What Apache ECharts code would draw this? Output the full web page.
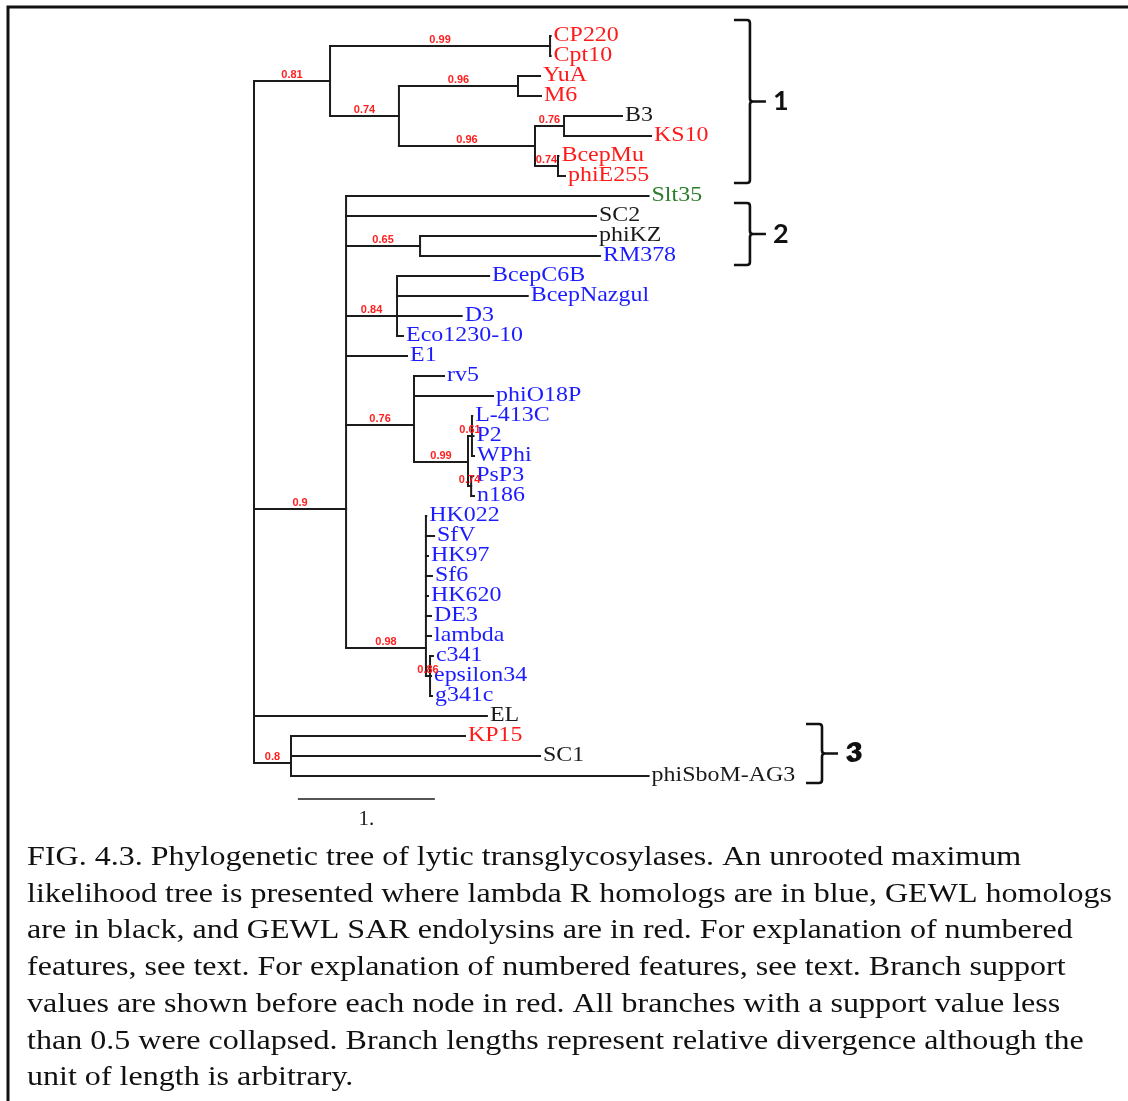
<!DOCTYPE html>
<html>
<head>
<meta charset="utf-8">
<title>Phylogenetic tree of lytic transglycosylases</title>
<script src="https://cdn.jsdelivr.net/npm/echarts@6/dist/echarts.min.js"></script>
<style>
  html, body { margin: 0; padding: 0; background: #fff; }
  #chart { width: 1128px; height: 1101px; }
</style>
</head>
<body>
<div id="chart"></div>
<script>
// ---- Leaves, top to bottom (row = index) ----
const leafNames = ['CP220', 'Cpt10', 'YuA', 'M6', 'B3', 'KS10', 'BcepMu', 'phiE255',
  'Slt35', 'SC2', 'phiKZ', 'RM378', 'BcepC6B', 'BcepNazgul', 'D3', 'Eco1230-10', 'E1',
  'rv5', 'phiO18P', 'L-413C', 'P2', 'WPhi', 'PsP3', 'n186',
  'HK022', 'SfV', 'HK97', 'Sf6', 'HK620', 'DE3', 'lambda', 'c341', 'epsilon34', 'g341c',
  'EL', 'KP15', 'SC1', 'phiSboM-AG3'];
// cumulative distance from the root
const leafDepths = [2.165, 2.165, 2.088, 2.095, 2.686, 2.898, 2.222, 2.270,
  2.880, 2.496, 2.496, 2.525, 1.716, 1.998, 1.516, 1.088, 1.117,
  1.387, 1.745, 1.593, 1.602, 1.606, 1.600, 1.606,
  1.257, 1.314, 1.270, 1.299, 1.270, 1.292, 1.292, 1.306, 1.292, 1.299,
  1.700, 1.540, 2.088, 2.880];
const leafParents = ['n99a', 'n99a', 'n96a', 'n96a', 'n76a', 'n76a', 'n74b', 'n74b',
  'n90', 'n90', 'n65', 'n65', 'n84', 'n84', 'n84', 'n84', 'n90',
  'n76b', 'n76b', 'n61', 'n61', 'n61', 'n74c', 'n74c',
  'n98', 'n98', 'n98', 'n98', 'n98', 'n98', 'n98', 'n86', 'n86', 'n86',
  'root', 'n80', 'n80', 'n80'];
// r = GEWL SAR endolysin, b = lambda R homolog, k = GEWL homolog, g = Slt35
const leafGroups = ['r', 'r', 'r', 'r', 'k', 'r', 'r', 'r',
  'g', 'k', 'k', 'b', 'b', 'b', 'b', 'b', 'b',
  'b', 'b', 'b', 'b', 'b', 'b', 'b',
  'b', 'b', 'b', 'b', 'b', 'b', 'b', 'b', 'b', 'b',
  'k', 'r', 'k', 'k'];

// ---- Internal nodes ----
const nodeIds     = ['root', 'n81', 'n99a', 'n74a', 'n96a', 'n96b', 'n76a', 'n74b',
  'n90', 'n65', 'n84', 'n76b', 'n99b', 'n61', 'n74c', 'n98', 'n86', 'n80'];
const nodeParents = [null, 'root', 'n81', 'n81', 'n74a', 'n74a', 'n96b', 'n96b',
  'root', 'n90', 'n90', 'n90', 'n76b', 'n99b', 'n99b', 'n90', 'n98', 'root'];
const nodeDepths  = [0, 0.555, 2.161, 1.058, 1.927, 2.051, 2.263, 2.219,
  0.672, 1.212, 1.044, 1.168, 1.562, 1.591, 1.585, 1.255, 1.285, 0.270];
const nodeRows    = [null, 2.25, 0.5, 4.0, 2.5, 5.5, 4.5, 6.5,
  23.65, 10.5, 14.0, 19.45, 21.3, 20.0, 22.5, 30.6, 32.0, 36.35];
const nodeSupport = [null, 0.81, 0.99, 0.74, 0.96, 0.96, 0.76, 0.74,
  0.9, 0.65, 0.84, 0.76, 0.99, 0.61, 0.74, 0.98, 0.86, 0.8];

// ---- Numbered features (brackets) ----
const bracketLabels = ['1', '2', '3'];
const bracketDepths = [3.620, 3.620, 4.146];
const bracketFrom   = [-0.8, 8.35, 34.4];
const bracketTo     = [7.35, 11.45, 37.35];

// ---- Scale bar ----
const scaleStart = 0.32;
const scaleLength = 1;
const scaleRow = 38.15;
const scaleText = '1.';

// ---- Caption ----
const captionLines = [
  'FIG. 4.3. Phylogenetic tree of lytic transglycosylases. An unrooted maximum',
  'likelihood tree is presented where lambda R homologs are in blue, GEWL homologs',
  'are in black, and GEWL SAR endolysins are in red. For explanation of numbered',
  'features, see text. For explanation of numbered features, see text. Branch support',
  'values are shown before each node in red. All branches with a support value less',
  'than 0.5 were collapsed. Branch lengths represent relative divergence although the',
  'unit of length is arbitrary.'
];

const groupColors = { r: '#ff1a1a', b: '#1c1cff', k: '#1a1a1a', g: '#2b7d2b' };

// ---- Build the tree geometry from the tables above ----
const pos = {};
nodeIds.forEach((id, i) => { pos[id] = { depth: nodeDepths[i], row: nodeRows[i] }; });

const childRows = {};
function addChild(parent, row) {
  if (!parent) return;
  (childRows[parent] = childRows[parent] || []).push(row);
}
const segments = [];
leafNames.forEach((n, i) => {
  const p = pos[leafParents[i]];
  segments.push([p.depth, i, leafDepths[i], i]);
  addChild(leafParents[i], i);
});
nodeIds.forEach((id, i) => {
  const par = nodeParents[i];
  if (!par) return;
  segments.push([pos[par].depth, nodeRows[i], nodeDepths[i], nodeRows[i]]);
  addChild(par, nodeRows[i]);
});
nodeIds.forEach((id, i) => {
  const rows = childRows[id];
  if (!rows) return;
  segments.push([nodeDepths[i], Math.min(...rows), nodeDepths[i], Math.max(...rows)]);
});

const supportData = [];
nodeIds.forEach((id, i) => {
  if (nodeSupport[i] == null) return;
  const pd = pos[nodeParents[i]].depth;
  supportData.push([(pd + nodeDepths[i]) / 2, nodeRows[i], nodeSupport[i]]);
});

const leafData = leafNames.map((n, i) => [leafDepths[i], i]);
const bracketData = bracketLabels.map((l, i) => [bracketDepths[i], bracketFrom[i], bracketTo[i]]);

const chart = echarts.init(document.getElementById('chart'), null, { renderer: 'canvas' });

const lineColor = '#1c1c1c';
const serif = '"Liberation Serif", "Times New Roman", serif';

chart.setOption({
  animation: false,
  backgroundColor: '#ffffff',
  grid: { left: 254, right: 52, top: 6, bottom: 265, containLabel: false },
  xAxis: { type: 'value', min: 0, max: 6, show: false },
  yAxis: { type: 'value', min: -1.5, max: 40, inverse: true, show: false },
  series: [
    {
      // branches
      type: 'custom',
      coordinateSystem: 'cartesian2d',
      clip: false,
      encode: { x: [0, 2], y: [1, 3] },
      data: segments,
      renderItem: function (params, api) {
        const a = api.coord([api.value(0), api.value(1)]);
        const b = api.coord([api.value(2), api.value(3)]);
        return {
          type: 'line',
          shape: { x1: a[0], y1: a[1], x2: b[0], y2: b[1] },
          style: { stroke: lineColor, lineWidth: 2, lineCap: 'square' }
        };
      }
    },
    {
      // leaf names
      type: 'custom',
      coordinateSystem: 'cartesian2d',
      clip: false,
      encode: { x: 0, y: 1 },
      data: leafData,
      renderItem: function (params, api) {
        const p = api.coord([api.value(0), api.value(1)]);
        const i = params.dataIndex;
        return {
          type: 'text',
          x: p[0] + 3,
          y: p[1] - 1,
          scaleX: 1.14,
          style: {
            text: leafNames[i],
            fill: groupColors[leafGroups[i]],
            font: '21px ' + serif,
            align: 'left',
            verticalAlign: 'middle'
          }
        };
      }
    },
    {
      // branch support values
      type: 'custom',
      coordinateSystem: 'cartesian2d',
      clip: false,
      encode: { x: 0, y: 1 },
      data: supportData,
      renderItem: function (params, api) {
        const p = api.coord([api.value(0), api.value(1)]);
        return {
          type: 'text',
          x: p[0],
          y: p[1] - 6,
          scaleX: 1.1,
          style: {
            text: String(api.value(2)),
            fill: '#ff2020',
            font: 'bold 10px "Liberation Sans", Arial, sans-serif',
            align: 'center',
            verticalAlign: 'middle'
          }
        };
      }
    },
    {
      // numbered brackets
      type: 'custom',
      coordinateSystem: 'cartesian2d',
      clip: false,
      encode: { x: 0, y: [1, 2] },
      data: bracketData,
      renderItem: function (params, api) {
        const top = api.coord([api.value(0), api.value(1)]);
        const bot = api.coord([api.value(0), api.value(2)]);
        const xv = top[0], y1 = top[1], y2 = bot[1];
        const ym = (y1 + y2) / 2;
        const arm = 16, tick = 16, r = 3;
        const d = 'M' + (xv - arm) + ' ' + y1 +
          ' L' + (xv - r) + ' ' + y1 +
          ' Q' + xv + ' ' + y1 + ' ' + xv + ' ' + (y1 + r) +
          ' L' + xv + ' ' + (ym - r) +
          ' Q' + xv + ' ' + ym + ' ' + (xv + r) + ' ' + ym +
          ' L' + (xv + tick) + ' ' + ym +
          ' M' + (xv + r) + ' ' + ym +
          ' Q' + xv + ' ' + ym + ' ' + xv + ' ' + (ym + r) +
          ' L' + xv + ' ' + (y2 - r) +
          ' Q' + xv + ' ' + y2 + ' ' + (xv - r) + ' ' + y2 +
          ' L' + (xv - arm) + ' ' + y2;
        const label = bracketLabels[params.dataIndex];
        const children = [
          {
            type: 'path',
            shape: { pathData: d },
            style: { stroke: '#111', lineWidth: 2.6, fill: null, lineJoin: 'round' }
          },
          {
            type: 'text',
            x: xv + tick + 15,
            y: ym,
            style: {
              text: label, fill: '#111',
              font: 'bold 27px Lato, "Open Sans", sans-serif',
              align: 'center', verticalAlign: 'middle'
            }
          }
        ];
        if (label === '3') {
          children.push({
            type: 'text',
            x: xv + tick + 17,
            y: ym - 1,
            style: {
              text: label, fill: '#111',
              font: 'bold 27px Lato, "Open Sans", sans-serif',
              align: 'center', verticalAlign: 'middle'
            }
          });
        }
        return { type: 'group', children: children };
      }
    },
    {
      // scale bar
      type: 'custom',
      coordinateSystem: 'cartesian2d',
      clip: false,
      encode: { x: [0, 1], y: 2 },
      data: [[scaleStart, scaleStart + scaleLength, scaleRow]],
      renderItem: function (params, api) {
        const a = api.coord([api.value(0), api.value(2)]);
        const b = api.coord([api.value(1), api.value(2)]);
        return {
          type: 'group',
          children: [
            {
              type: 'line',
              shape: { x1: a[0], y1: a[1], x2: b[0], y2: b[1] },
              style: { stroke: lineColor, lineWidth: 1.6 }
            },
            {
              type: 'text',
              x: (a[0] + b[0]) / 2,
              y: a[1] + 20,
              style: {
                text: scaleText, fill: '#1a1a1a',
                font: '21px ' + serif,
                align: 'center', verticalAlign: 'middle'
              }
            }
          ]
        };
      }
    }
  ],
  graphic: [
    {
      type: 'polyline',
      shape: { points: [[8, 1101], [8, 7], [1128, 7]] },
      style: { stroke: '#111', lineWidth: 3, fill: null }
    }
  ].concat(captionLines.map((line, i) => ({
    type: 'text',
    x: 27,
    y: 858 + i * 36.7,
    scaleX: 1.187,
    style: {
      text: line,
      fill: '#111',
      font: '27px ' + serif,
      align: 'left',
      verticalAlign: 'middle'
    }
  })))
});
</script>
</body>
</html>
